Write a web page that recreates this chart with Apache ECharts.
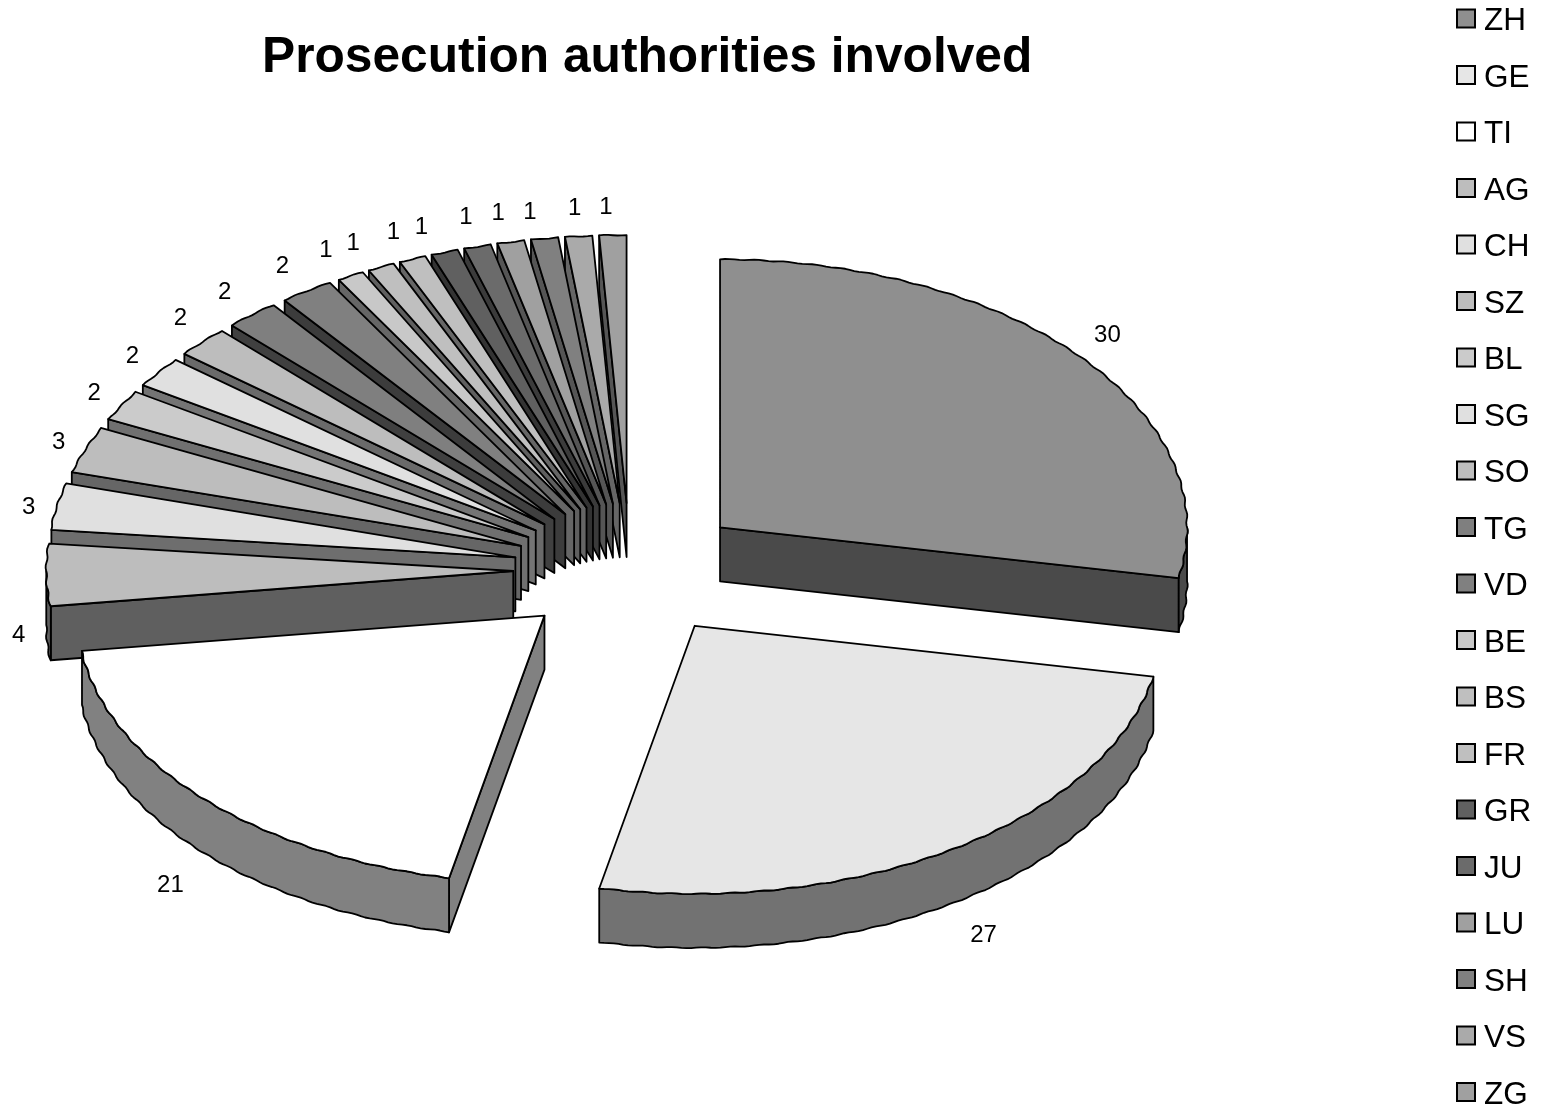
<!DOCTYPE html>
<html><head><meta charset="utf-8">
<style>html,body{margin:0;padding:0;background:#fff}#c{width:1544px;height:1113px}</style>
<script src="https://cdn.jsdelivr.net/npm/echarts@6/dist/echarts.min.js"></script>
</head><body><div id="c"></div>
<script>
const categories = ['ZH','GE','TI','AG','CH','SZ','BL','SG','SO','TG','VD','BE','BS','FR','GR','JU','LU','SH','VS','ZG'];
const values = [30,27,21,4,3,3,2,2,2,2,2,1,1,1,1,1,1,1,1,1];
const topColors = ['#8f8f8f','#e6e6e6','#ffffff','#bdbdbd','#e0e0e0','#bdbdbd','#cbcbcb','#e0e0e0','#bdbdbd','#7f7f7f','#808080','#c8c8c8','#bfbfbf','#bfbfbf','#606060','#6b6b6b','#a0a0a0','#808080','#aaaaaa','#a0a0a0'];
const wallColors = ['#4a4a4a','#727272','#818181','#5f5f5f','#6e6e6e','#666666','#707070','#747474','#6a6a6a','#404040','#3c3c3c','#666666','#5f5f5f','#666666','#333333','#3b3b3b','#555555','#555555','#666666','#555555'];
const labelNudge = [[2,-1],[12,6],[-8,11],[5,6],[4,7],[4,4],[1,4],[0,3],[2,-2],[-6,2],[-6,2],[-9,3],[-14,5],[-7,3],[-13,6],[-3,2],[-6,3],[-10,6],[-1,4],[-6,4]];

const CX = 630, CY = 570, RX = 467, RY = 268, DEPTH = 54, EXPLODE = 0.25;
const LABEL_X = 1.32, LABEL_Y = 1.37;
const total = values.reduce((a, b) => a + b, 0);
const rad = d => d * Math.PI / 180;
const starts = [];
values.reduce((acc, v, i) => { starts[i] = acc; return acc + v; }, 0);

function slicePaths(i) {
  const a0 = starts[i] / total * 360, a1 = (starts[i] + values[i]) / total * 360, mid = (a0 + a1) / 2;
  const ax = CX + RX * EXPLODE * Math.sin(rad(mid));
  const ay = CY - RY * EXPLODE * Math.cos(rad(mid));
  const rim = a => {
    const wob = 1 + 0.0016 * Math.sin(rad(a) * 100);
    return [ax + RX * wob * Math.sin(rad(a)), ay - RY * wob * Math.cos(rad(a))];
  };
  const arc = (from, to) => {
    const n = Math.max(1, Math.ceil((to - from) / 0.6)), pts = [];
    for (let k = 0; k <= n; k++) pts.push(rim(from + (to - from) * k / n));
    return pts;
  };
  const down = p => [p[0], p[1] + DEPTH];
  const wallOf = a => { const r = rim(a); return [[ax, ay], r, down(r), [ax, ay + DEPTH]]; };
  const walls = [];
  if (a0 > 180) walls.push(wallOf(a0));
  if (a1 < 180) walls.push(wallOf(a1));
  const outer = [];
  const o0 = Math.max(a0, 90), o1 = Math.min(a1, 270);
  if (o1 > o0) { const top = arc(o0, o1); outer.push(...top, ...top.slice().reverse().map(down)); }
  const cm = Math.cos(rad(mid));
  const lx = CX + LABEL_X * RX * Math.sin(rad(mid)) + labelNudge[i][0];
  const ly = CY - LABEL_Y * RY * cm + (cm < 0.02 ? DEPTH : 0) + labelNudge[i][1];
  return { top: [[ax, ay], ...arc(a0, a1)], walls, outer, lx, ly };
}

function makeSeries(i) {
  return {
    type: 'custom', name: categories[i], coordinateSystem: 'none', silent: true,
    z: i < 3 ? 40 + i : 30 - i,
    itemStyle: { color: topColors[i] },
    data: [[values[i]]],
    renderItem: (params, api) => {
      const p = slicePaths(i);
      const line = { stroke: '#000', lineWidth: 1.8, lineJoin: 'round' };
      const children = [];
      p.walls.forEach(w => children.push({ type: 'polygon', shape: { points: w }, style: { fill: wallColors[i], ...line } }));
      if (p.outer.length) children.push({ type: 'polygon', shape: { points: p.outer }, style: { fill: wallColors[i], ...line } });
      children.push({ type: 'polygon', shape: { points: p.top }, style: { fill: topColors[i], ...line } });
      children.push({ type: 'text', style: { text: String(api.value(0)), x: p.lx, y: p.ly, align: 'center', verticalAlign: 'middle', fill: '#000', font: '24px "Liberation Sans"' } });
      return { type: 'group', children };
    }
  };
}

const chart = echarts.init(document.getElementById('c'), null, { renderer: 'canvas' });
chart.setOption({
  animation: false,
  backgroundColor: '#fff',
  title: { text: 'Prosecution authorities involved', left: 257, top: 28,
    textStyle: { fontFamily: 'Liberation Sans', fontWeight: 'bold', fontSize: 49.7, color: '#000' } },
  legend: {
    orient: 'vertical', left: 1456, top: -0.5, itemWidth: 18, itemHeight: 18, itemGap: 18.5,
    icon: 'rect', selectedMode: false, data: categories,
    itemStyle: { borderColor: '#000', borderWidth: 2 },
    formatter: name => '{t|' + name + '}',
    textStyle: { rich: { t: { fontFamily: 'Liberation Sans', fontSize: 31.5, color: '#000', lineHeight: 32, padding: [6, 0, 0, 4] } } },
    padding: 0
  },
  series: categories.map((_, i) => makeSeries(i))
});
</script></body></html>
